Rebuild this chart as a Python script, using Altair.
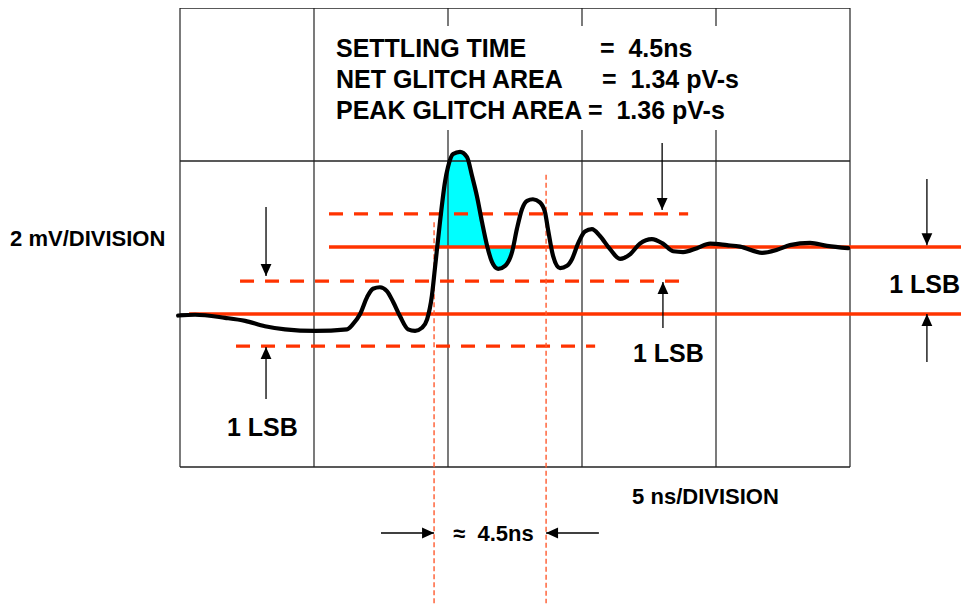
import altair as alt
import pandas as pd

# ---------------- data ----------------
# waveform: time in ns (5 ns / division), amplitude in mV (2 mV / division)
time_ns = [-0.07, 0.56, 1.68, 2.43, 3.17, 3.92, 5.04, 6.23, 6.46, 6.72, 6.98, 7.20,
           7.46, 7.72, 7.95, 8.21, 8.51, 8.77, 9.03, 9.22, 9.40, 9.51, 9.70, 9.89,
           10.00, 10.19, 10.45, 10.71, 10.90, 11.08, 11.27, 11.46, 11.64, 11.87,
           12.13, 12.39, 12.57, 12.76, 12.95, 13.17, 13.43, 13.62, 13.73, 13.92,
           14.18, 14.44, 14.63, 14.85, 15.11, 15.37, 15.67, 16.04, 16.42, 16.79,
           17.16, 17.61, 18.02, 18.40, 18.77, 19.29, 19.78, 20.41, 20.90, 21.72,
           22.28, 22.76, 23.51, 24.14, 24.93]
volt_mv = [-0.02, -0.01, -0.05, -0.09, -0.16, -0.20, -0.22, -0.20, -0.13, 0.00, 0.22, 0.33,
           0.35, 0.30, 0.16, -0.03, -0.20, -0.22, -0.18, -0.07, 0.24, 0.59, 1.20, 1.73,
           1.92, 2.09, 2.12, 2.05, 1.80, 1.54, 1.20, 0.89, 0.68, 0.59,
           0.63, 0.81, 1.11, 1.37, 1.48, 1.50, 1.46, 1.33, 1.11, 0.76,
           0.60, 0.63, 0.72, 0.92, 1.08, 1.11, 1.02, 0.85, 0.72, 0.78,
           0.92, 0.98, 0.92, 0.82, 0.81, 0.86, 0.92, 0.90, 0.88, 0.80,
           0.84, 0.90, 0.93, 0.89, 0.86]

initial_level = 0.0      # mV
final_level = 0.876      # mV (1 LSB step)
glitch_window = [9.55, 12.5]  # ns, region shaded cyan

# grid divisions
x_divisions = [0, 5, 10, 15, 20, 25]
y_divisions = [-2, 0, 2, 4]

# orange reference lines
solid_levels = [initial_level, final_level]
solid_start = [0.34, 5.56]
solid_end = [29.29, 29.29]
dashed_levels = [1.31, 0.43, -0.42]
dashed_start = [5.56, 2.24, 2.09]
dashed_end = [18.96, 18.73, 15.49]

# settling-time markers
settle_marks = [9.48, 13.66]
settle_top = [1.20, 1.82]

# annotation texts
NB = "\u00a0"
block_left = ["SETTLING TIME", "NET GLITCH AREA", "PEAK GLITCH AREA"]
block_right = ["=" + NB * 2 + "4.5ns", "=" + NB * 2 + "1.34 pV-s", "=" + NB * 2 + "1.36 pV-s"]
block_y = [3.36, 2.95, 2.549]
block_right_x = [15.67, 15.75, 15.22]

lsb_label = "1 LSB"
lsb_x = [1.75, 16.90, 26.46]
lsb_y = [-1.59, -0.632, 0.27]

# arrows: x, tip y, tail y (vertical)
down_arrows = {"x": [3.21, 17.99, 27.87], "tip": [0.497, 1.36, 0.90], "tail": [1.40, 2.235, 1.765]}
up_arrows = {"x": [3.21, 18.02, 27.87], "tip": [-0.43, 0.418, 0.0], "tail": [-1.11, -0.183, -0.627]}
# horizontal arrows: y, tip x, tail x
right_arrow = {"y": [-2.863], "tip": [9.48], "tail": [7.50]}
left_arrow = {"y": [-2.863], "tip": [13.66], "tail": [15.63]}

# ---------------- chart ----------------
ORANGE = "#FF3300"
FONT = "Liberation Sans"
xs = alt.Scale(domain=[0, 25], nice=False, zero=False)
ys = alt.Scale(domain=[-2, 4], nice=False, zero=False)


def X(f):
    return alt.X(f, type="quantitative", scale=xs, axis=None)


def Y(f):
    return alt.Y(f, type="quantitative", scale=ys, axis=None)


wave = pd.DataFrame({"t": time_ns, "v": volt_mv})

# shaded glitch region (between curve and final level), split at each crossing
fill_rows = []
seg = 0
for i in range(len(time_ns) - 1):
    t0, t1 = time_ns[i], time_ns[i + 1]
    v0, v1 = volt_mv[i], volt_mv[i + 1]
    if glitch_window[0] <= t0 <= glitch_window[1]:
        fill_rows.append((t0, v0, seg))
    if (v0 - final_level) * (v1 - final_level) < 0:
        tc = t0 + (final_level - v0) / (v1 - v0) * (t1 - t0)
        if glitch_window[0] <= tc <= glitch_window[1]:
            fill_rows.append((tc, final_level, seg))
            seg += 1
            fill_rows.append((tc, final_level, seg))
fill = pd.DataFrame(fill_rows, columns=["t", "v", "seg"])
fill["b"] = final_level
fill = fill[fill.groupby("seg")["t"].transform("count") > 2]

area = alt.Chart(fill).mark_area(color="#00FFFF", opacity=1, interpolate="monotone").encode(
    x=X("t"), y=Y("v"), y2="b", detail="seg:N")

vgrid = alt.Chart(pd.DataFrame({"x": x_divisions, "y0": -2, "y1": 4})).mark_rule(
    color="#333333", strokeWidth=1.3).encode(x=X("x"), y=Y("y0"), y2="y1")
hgrid = alt.Chart(pd.DataFrame({"y": y_divisions, "x0": 0, "x1": 25})).mark_rule(
    color="#222222", strokeWidth=1.3).encode(y=Y("y"), x=X("x0"), x2="x1")

box = alt.Chart(pd.DataFrame({"x0": [5.6], "x1": [21.3], "y0": [2.405], "y1": [3.765]})).mark_rect(
    fill="white").encode(x=X("x0"), x2="x1", y=Y("y0"), y2="y1")

solid = alt.Chart(pd.DataFrame({"y": solid_levels, "x0": solid_start, "x1": solid_end})).mark_rule(
    color=ORANGE, strokeWidth=3.3).encode(y=Y("y"), x=X("x0"), x2="x1")
dashed = alt.Chart(pd.DataFrame({"y": dashed_levels, "x0": dashed_start, "x1": dashed_end})).mark_rule(
    color=ORANGE, strokeWidth=3.3, strokeDash=[14, 11]).encode(y=Y("y"), x=X("x0"), x2="x1")

vmarks = alt.Chart(pd.DataFrame({"x": settle_marks, "y0": settle_top, "y1": -3.78})).mark_rule(
    color="#FF5A2E", strokeWidth=1.4, strokeDash=[5, 3]).encode(x=X("x"), y=Y("y0"), y2="y1")

curve = alt.Chart(wave).mark_line(color="black", strokeWidth=4.2, interpolate="monotone",
                                  strokeJoin="round", strokeCap="round").encode(x=X("t"), y=Y("v"))

# arrows
shafts_v = pd.DataFrame({
    "x": down_arrows["x"] + up_arrows["x"],
    "y0": down_arrows["tip"] + up_arrows["tip"],
    "y1": down_arrows["tail"] + up_arrows["tail"],
})
shaft_v = alt.Chart(shafts_v).mark_rule(color="black", strokeWidth=1.3).encode(
    x=X("x"), y=Y("y0"), y2="y1")
shafts_h = pd.DataFrame({
    "y": right_arrow["y"] + left_arrow["y"],
    "x0": right_arrow["tip"] + left_arrow["tip"],
    "x1": right_arrow["tail"] + left_arrow["tail"],
})
shaft_h = alt.Chart(shafts_h).mark_rule(color="black", strokeWidth=1.3).encode(
    y=Y("y"), x=X("x0"), x2="x1")

heads = []
for pts, path in [
    (pd.DataFrame({"x": down_arrows["x"], "y": down_arrows["tip"]}), "M0,0L-0.9,-2L0.9,-2Z"),
    (pd.DataFrame({"x": up_arrows["x"], "y": up_arrows["tip"]}), "M0,0L-0.9,2L0.9,2Z"),
    (pd.DataFrame({"x": right_arrow["tip"], "y": right_arrow["y"]}), "M0,0L-2,-0.9L-2,0.9Z"),
    (pd.DataFrame({"x": left_arrow["tip"], "y": left_arrow["y"]}), "M0,0L2,-0.9L2,0.9Z"),
]:
    heads.append(alt.Chart(pts).mark_point(shape=path, size=144, filled=True, fill="black",
                                           opacity=1, strokeWidth=0).encode(x=X("x"), y=Y("y")))


def text_layer(df, size):
    return alt.Chart(df).mark_text(font=FONT, fontWeight="bold", fontSize=size, align="left",
                                   baseline="alphabetic", color="black").encode(
        x=X("x"), y=Y("y"), text="s:N")


block_txt = text_layer(pd.DataFrame({"s": block_left, "x": 5.82, "y": block_y}), 25)
block_txt2 = text_layer(pd.DataFrame({"s": block_right, "x": block_right_x, "y": block_y}), 25)
lsb_txt = text_layer(pd.DataFrame({"s": lsb_label, "x": lsb_x, "y": lsb_y}), 25)
axis_txt = text_layer(pd.DataFrame({"s": ["2 mV/DIVISION", "5 ns/DIVISION"],
                                    "x": [-6.34, 16.87], "y": [0.893, -2.484]}), 22)
settle_txt = text_layer(pd.DataFrame({"s": ["\u2248" + NB * 2 + "4.5ns"], "x": [10.19], "y": [-2.971]}), 22)

chart = alt.layer(
    area, vgrid, hgrid, box, solid, dashed, vmarks, curve,
    shaft_v, shaft_h, *heads,
    block_txt, block_txt2, lsb_txt, axis_txt, settle_txt,
).properties(
    width=670, height=459,
    autosize=alt.AutoSizeParams(type="none"),
    padding={"left": 172, "top": 0, "right": 111, "bottom": 138},
).configure_view(strokeWidth=0)

chart.save("out.html", embed_options={"renderer": "svg", "actions": False})
